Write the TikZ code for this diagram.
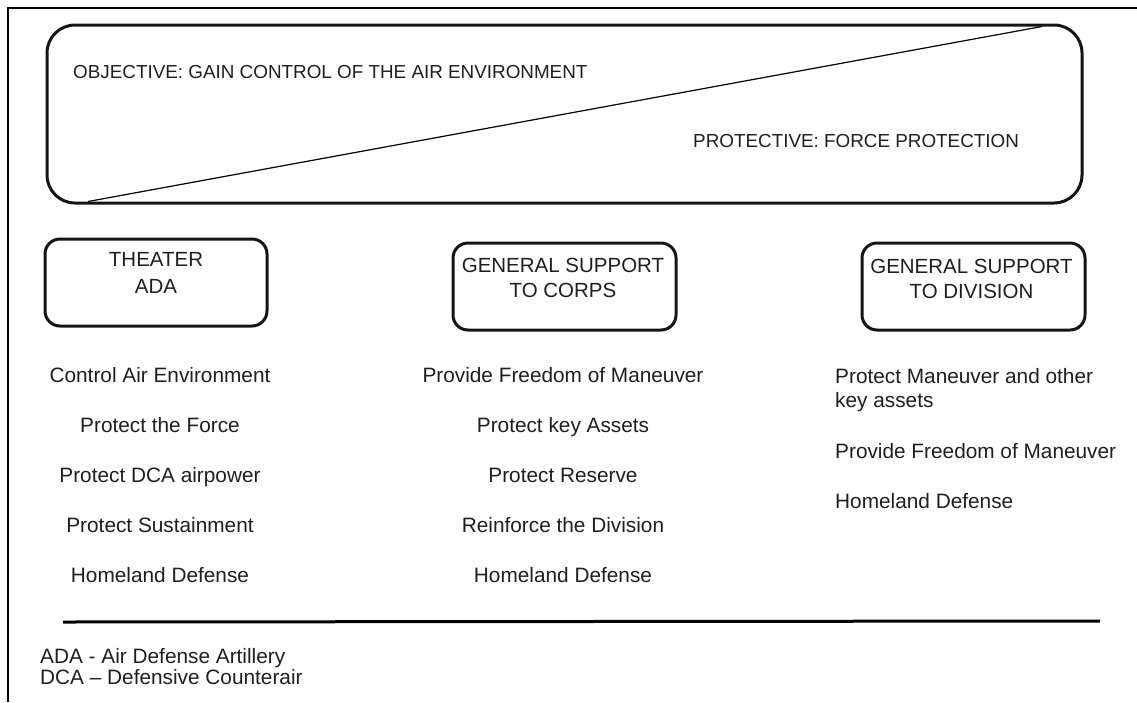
\documentclass[tikz,border=0pt]{standalone}
\usepackage{fontspec}
\setmainfont{Liberation Sans}
\begin{document}
\begin{tikzpicture}[x=1pt,y=-1pt,
  ink/.style={draw=black!92},
  bigbox/.style={ink, line width=3pt, rounded corners=28pt, inner sep=0pt},
  rolebox/.style={ink, line width=3pt, rounded corners=15pt, inner sep=0pt},
  roletext/.style={text=black!88, align=center, anchor=base, inner sep=0pt,
    font=\fontsize{20.5}{25}\selectfont},
  headtext/.style={text=black!88, anchor=base west, inner sep=0pt,
    font=\fontsize{18.85}{22}\selectfont},
  item/.style={text=black!88, anchor=base, inner sep=0pt,
    font=\fontsize{20.8}{24}\selectfont},
  itemleft/.style={item, anchor=base west, align=left},
  note/.style={text=black!88, anchor=base west, inner sep=0pt,
    font=\fontsize{20.8}{21}\selectfont}
]
\useasboundingbox (0,0) rectangle (1137,702);
\fill[white] (0,0) rectangle (1137,702);

% page frame (left and top edges)
\coordinate (frameBL) at (8,702);
\coordinate (frameTL) at (8,8);
\coordinate (frameTR) at (1137,8);
\draw[line width=2pt] (frameBL) -- (frameTL) -- (frameTR);

% objective / protective banner split by a diagonal
\node[bigbox, minimum width=1035pt, minimum height=178pt] (banner) at (564.5,114) {};
\coordinate (diagA) at (88,201.5);
\coordinate (diagB) at (1042,26.5);
\draw[line width=1.2pt] (diagA) -- (diagB);
\node[headtext] (objective) at (73,78) {OBJECTIVE: GAIN CONTROL OF THE AIR ENVIRONMENT};
\node[headtext] (protective) at (693,147) {PROTECTIVE: FORCE PROTECTION};

% the three echelon boxes (multi-line labels are anchored on their last baseline)
\node[rolebox, minimum width=222pt, minimum height=87pt] (theater) at (156,282.5) {};
\node[roletext, font=\fontsize{20.5}{27}\selectfont] (theaterlbl) at (156,293) {THEATER\\ADA};

\node[rolebox, minimum width=223pt, minimum height=87pt] (corps) at (564.5,286.5) {};
\node[roletext] (corpslbl) at (563,297.5) {GENERAL SUPPORT\\TO CORPS};

\node[rolebox, minimum width=223pt, minimum height=87pt] (division) at (973.5,286.5) {};
\node[roletext] (divisionlbl) at (971.5,298) {GENERAL SUPPORT\\TO DIVISION};

% theater missions
\node[item] (t1) at (160,382) {Control Air Environment};
\node[item] (t2) at (160,432) {Protect the Force};
\node[item] (t3) at (160,482) {Protect DCA airpower};
\node[item] (t4) at (160,532) {Protect Sustainment};
\node[item] (t5) at (160,582) {Homeland Defense};

% corps missions
\node[item] (c1) at (563,382) {Provide Freedom of Maneuver};
\node[item] (c2) at (563,432) {Protect key Assets};
\node[item] (c3) at (563,482) {Protect Reserve};
\node[item] (c4) at (563,532) {Reinforce the Division};
\node[item] (c5) at (563,582) {Homeland Defense};

% division missions
\node[itemleft] (d1) at (835,407) {Protect Maneuver and other\\key assets};
\node[itemleft] (d2) at (835,458) {Provide Freedom of Maneuver};
\node[itemleft] (d3) at (835,508) {Homeland Defense};

% separator and abbreviations
\coordinate (ruleL) at (63,622);
\coordinate (ruleR) at (1100,621);
\draw[line width=3pt] (ruleL) -- (ruleR);
\node[note] (abbr1) at (40,663) {ADA - Air Defense Artillery};
\node[note] (abbr2) at (40,684) {DCA – Defensive Counterair};
\end{tikzpicture}
\end{document}
